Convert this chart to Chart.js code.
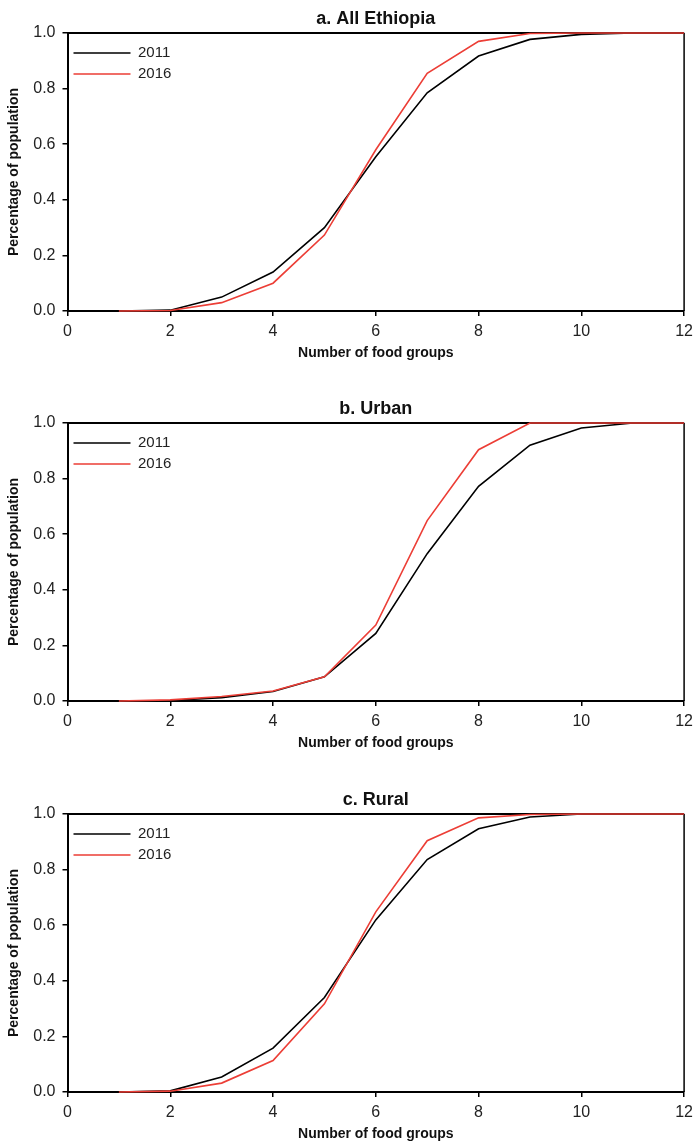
<!DOCTYPE html>
<html>
<head>
<meta charset="utf-8">
<script src="https://cdn.jsdelivr.net/npm/chart.js@4.4.0/dist/chart.umd.min.js"></script>
<style>
  body { margin: 0; background: #fff; }
  #wrap { position: relative; width: 699px; height: 1147px; }
  canvas { position: absolute; left: 0; }
</style>
</head>
<body>
<div id="wrap">
  <canvas id="chartA" width="699" height="366" style="top:0px"></canvas>
  <canvas id="chartB" width="699" height="366" style="top:390px"></canvas>
  <canvas id="chartC" width="699" height="366" style="top:781px"></canvas>
</div>
<script>
// number of food groups (x values)
const foodGroups = [1, 2, 3, 4, 5, 6, 7, 8, 9, 10, 11, 12];
const years = ['2011', '2016'];
const panelTitles = ['a. All Ethiopia', 'b. Urban', 'c. Rural'];

// cumulative share of population
const allEthiopia2011 = [0, 0.003, 0.05, 0.14, 0.30, 0.555, 0.785, 0.917, 0.977, 0.995, 1.0, 1.0];
const allEthiopia2016 = [0, 0.002, 0.03, 0.10, 0.273, 0.58, 0.855, 0.97, 0.998, 1.0, 1.0, 1.0];
const urban2011 = [0, 0.002, 0.012, 0.034, 0.087, 0.243, 0.53, 0.772, 0.92, 0.982, 1.0, 1.0];
const urban2016 = [0, 0.004, 0.016, 0.036, 0.087, 0.273, 0.649, 0.904, 1.0, 1.0, 1.0, 1.0];
const rural2011 = [0, 0.004, 0.054, 0.158, 0.34, 0.619, 0.836, 0.947, 0.989, 1.0, 1.0, 1.0];
const rural2016 = [0, 0.003, 0.032, 0.113, 0.317, 0.648, 0.904, 0.986, 0.998, 1.0, 1.0, 1.0];

const lineColors = ['#000000', '#ec3e36'];

Chart.defaults.font.family = "'Liberation Sans', Arial, sans-serif";
Chart.defaults.color = '#222';

// top and right edges of the plot frame
const frame = {
  id: 'frame',
  beforeDatasetsDraw(chart) {
    const {ctx, chartArea: a} = chart;
    ctx.save();
    ctx.strokeStyle = '#000';
    ctx.lineWidth = 2;
    ctx.beginPath();
    ctx.moveTo(a.left, a.top);
    ctx.lineTo(a.right, a.top);
    ctx.stroke();
    ctx.lineWidth = 1.5;
    ctx.beginPath();
    ctx.moveTo(a.right, a.top);
    ctx.lineTo(a.right, a.bottom);
    ctx.stroke();
    ctx.restore();
  }
};

function toPoints(values) {
  return foodGroups.map((g, i) => ({x: g, y: values[i]}));
}

function makeChart(id, title, s2011, s2016) {
  const ctx = document.getElementById(id).getContext('2d');
  return new Chart(ctx, {
    type: 'line',
    data: {
      datasets: [
        {label: years[0], data: toPoints(s2011), borderColor: lineColors[0], order: 1, clip: 3},
        {label: years[1], data: toPoints(s2016), borderColor: lineColors[1], order: 0, clip: 3}
      ]
    },
    options: {
      responsive: false,
      animation: false,
      layout: {padding: {left: 0, right: 11, top: 0, bottom: 0}},
      elements: {
        line: {borderWidth: 1.6, tension: 0, fill: false},
        point: {radius: 0}
      },
      plugins: {
        legend: {
          position: 'chartArea',
          align: 'start',
          // empty title only pushes the rows down into the plot
          title: {display: true, text: '', padding: {top: 38.5, bottom: 0}, font: {size: 1, lineHeight: 1}},
          labels: {
            boxWidth: 57,
            boxHeight: 0,
            padding: 6,
            font: {size: 15},
            color: '#222',
            sort: (a, b) => a.datasetIndex - b.datasetIndex
          }
        },
        tooltip: {enabled: false}
      },
      scales: {
        // panel title sits on a bare top axis so it centres over the plot
        top: {
          type: 'linear',
          position: 'top',
          min: 0,
          max: 12,
          afterFit: (s) => { s.height = 33; },
          ticks: {display: false},
          grid: {display: false},
          border: {display: false},
          title: {
            display: true,
            text: title,
            color: '#111',
            font: {size: 18, weight: 'bold'},
            padding: {top: 8, bottom: 3}
          }
        },
        x: {
          type: 'linear',
          position: 'bottom',
          min: 0,
          max: 12,
          afterFit: (s) => { s.height = 55; },
          ticks: {stepSize: 2, padding: 6, font: {size: 16}, color: '#222', maxRotation: 0},
          grid: {drawOnChartArea: false, tickLength: 5, color: '#000', lineWidth: 1.5},
          border: {color: '#000', width: 2},
          title: {
            display: true,
            text: 'Number of food groups',
            color: '#111',
            font: {size: 14, weight: 'bold'},
            padding: {top: 0, bottom: 4}
          }
        },
        y: {
          min: 0,
          max: 1,
          afterFit: (s) => { s.width = 67.5; },
          ticks: {stepSize: 0.2, padding: 7, font: {size: 16}, color: '#222', callback: (v) => v.toFixed(1)},
          grid: {drawOnChartArea: false, tickLength: 5, color: '#000', lineWidth: 1.5},
          border: {color: '#000', width: 2},
          title: {
            display: true,
            text: 'Percentage of population',
            color: '#111',
            font: {size: 14, weight: 'bold'},
            padding: {top: 6, bottom: 0}
          }
        }
      }
    },
    plugins: [frame]
  });
}

makeChart('chartA', panelTitles[0], allEthiopia2011, allEthiopia2016);
makeChart('chartB', panelTitles[1], urban2011, urban2016);
makeChart('chartC', panelTitles[2], rural2011, rural2016);
</script>
</body>
</html>
